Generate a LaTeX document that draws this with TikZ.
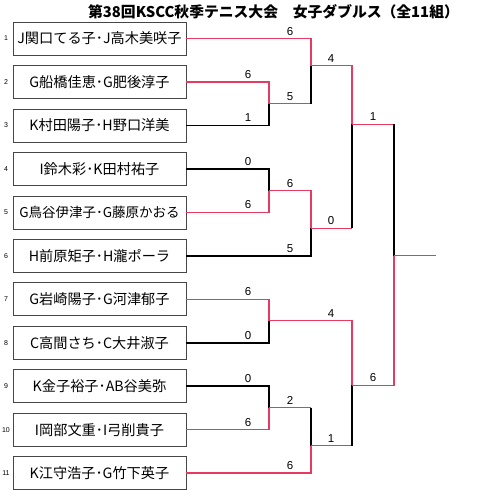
\documentclass[tikz,border=0pt]{standalone}
\usepackage{fontspec}
\setmainfont{Noto Sans CJK JP}
\newfontfamily\numfont{Liberation Sans}
\definecolor{winred}{RGB}{230,58,98}
\definecolor{boxgray}{RGB}{70,70,70}
\tikzset{
  pairbox/.style={draw=boxgray, line width=0.8pt, minimum width=173pt, minimum height=33pt, inner sep=0pt, font=\fontsize{14.2}{16}\selectfont},
  seed/.style={font=\numfont\fontsize{7}{8}\selectfont, inner sep=0pt},
  score/.style={font=\numfont\fontsize{11.5}{12}\selectfont, inner sep=0pt, anchor=base},
  win/.style={draw=winred, line width=1.5pt},
  lose/.style={draw=black, line width=1.5pt},
}
\begin{document}
\begin{tikzpicture}[x=1pt,y=-1pt]
\useasboundingbox[fill=white] (0,0) rectangle (480,501);
\node[font=\bfseries\fontsize{14.8}{16}\selectfont, inner sep=0pt] (title) at (273.5,12) {第38回KSCC秋季テニス大会　女子ダブルス（全11組）};
% boxes
\node[pairbox] (p1) at (99.5,38.5) {J関口てる子･J高木美咲子};
\node[pairbox] (p2) at (99.5,82.0) {G船橋佳恵･G肥後淳子};
\node[pairbox] (p3) at (99.5,125.4) {K村田陽子･H野口洋美};
\node[pairbox] (p4) at (99.5,168.9) {I鈴木彩･K田村祐子};
\node[pairbox, font=\fontsize{13.5}{16}\selectfont] (p5) at (99.5,212.4) {G鳥谷伊津子･G藤原かおる};
\node[pairbox] (p6) at (99.5,255.8) {H前原矩子･H瀧ポーラ};
\node[pairbox] (p7) at (99.5,299.3) {G岩崎陽子･G河津郁子};
\node[pairbox] (p8) at (99.5,342.8) {C高間さち･C大井淑子};
\node[pairbox] (p9) at (99.5,386.2) {K金子裕子･AB谷美弥};
\node[pairbox] (p10) at (99.5,429.7) {I岡部文重･I弓削貴子};
\node[pairbox] (p11) at (99.5,473.2) {K江守浩子･G竹下英子};
% seeds
\foreach \i in {1,...,11}{
  \node[seed] (s\i) at (6,{38.5+43.47*(\i-1)}) {\i};
}
% junctions
\coordinate (a) at (269,103.5);
\coordinate (b) at (311,65.7);
\coordinate (c) at (269,190.5);
\coordinate (d) at (311,228.3);
\coordinate (e) at (352,124.3);
\coordinate (f) at (269,320.5);
\coordinate (g) at (269,407.5);
\coordinate (h) at (311,445.7);
\coordinate (i) at (352,385.3);
\coordinate (z) at (394,255.5);
\coordinate (zend) at (436,255.5);
% match A
\draw[win] (p2.east) -| (a);
\draw[lose] (p3.east) -| (a);
% match B
\draw[win] (p1.east) -| (b);
\draw[win] (a) -- (a -| b);
\draw[lose] (a -| b) -- (b);
% match C
\draw[lose] (p4.east) -| (c);
\draw[win] (p5.east) -| (c);
% match D
\draw[win] (c) -| (d);
\draw[lose] (p6.east) -| (d);
% match E
\draw[win] (b) -| (e);
\draw[win] (d) -- (d -| e);
\draw[lose] (d -| e) -- (e);
% match F
\draw[win] (p7.east) -| (f);
\draw[lose] (p8.east) -| (f);
% match G
\draw[lose] (p9.east) -| (g);
\draw[win] (p10.east) -| (g);
% match H
\draw[win] (g) -- (g -| h);
\draw[lose] (g -| h) -- (h);
\draw[win] (p11.east) -| (h);
% match I
\draw[win] (f) -| (i);
\draw[win] (h) -- (h -| i);
\draw[lose] (h -| i) -- (i);
% final
\draw[win] (e) -- (e -| z);
\draw[lose] (e -| z) -- (z);
\draw[win] (i) -| (z);
\draw[win] (z) -- (zend);
% scores
\node[score] (t1) at (290,35.0) {6};
\node[score] (t2) at (248,78.5) {6};
\node[score] (t3) at (248,121.9) {1};
\node[score] (ta) at (290,100.0) {5};
\node[score] (tb) at (331,62.2) {4};
\node[score] (te) at (373,120.8) {1};
\node[score] (t4) at (248,165.4) {0};
\node[score] (t5) at (248,208.9) {6};
\node[score] (tc) at (290,187.0) {6};
\node[score] (td) at (331,224.8) {0};
\node[score] (t6) at (290,252.3) {5};
\node[score] (t7) at (248,295.8) {6};
\node[score] (t8) at (248,339.3) {0};
\node[score] (tf) at (331,317.0) {4};
\node[score] (t9) at (248,382.7) {0};
\node[score] (t10) at (248,426.2) {6};
\node[score] (tg) at (290,404.0) {2};
\node[score] (t11) at (290,469.7) {6};
\node[score] (th) at (331,442.2) {1};
\node[score] (ti) at (373,381.8) {6};
\end{tikzpicture}
\end{document}
